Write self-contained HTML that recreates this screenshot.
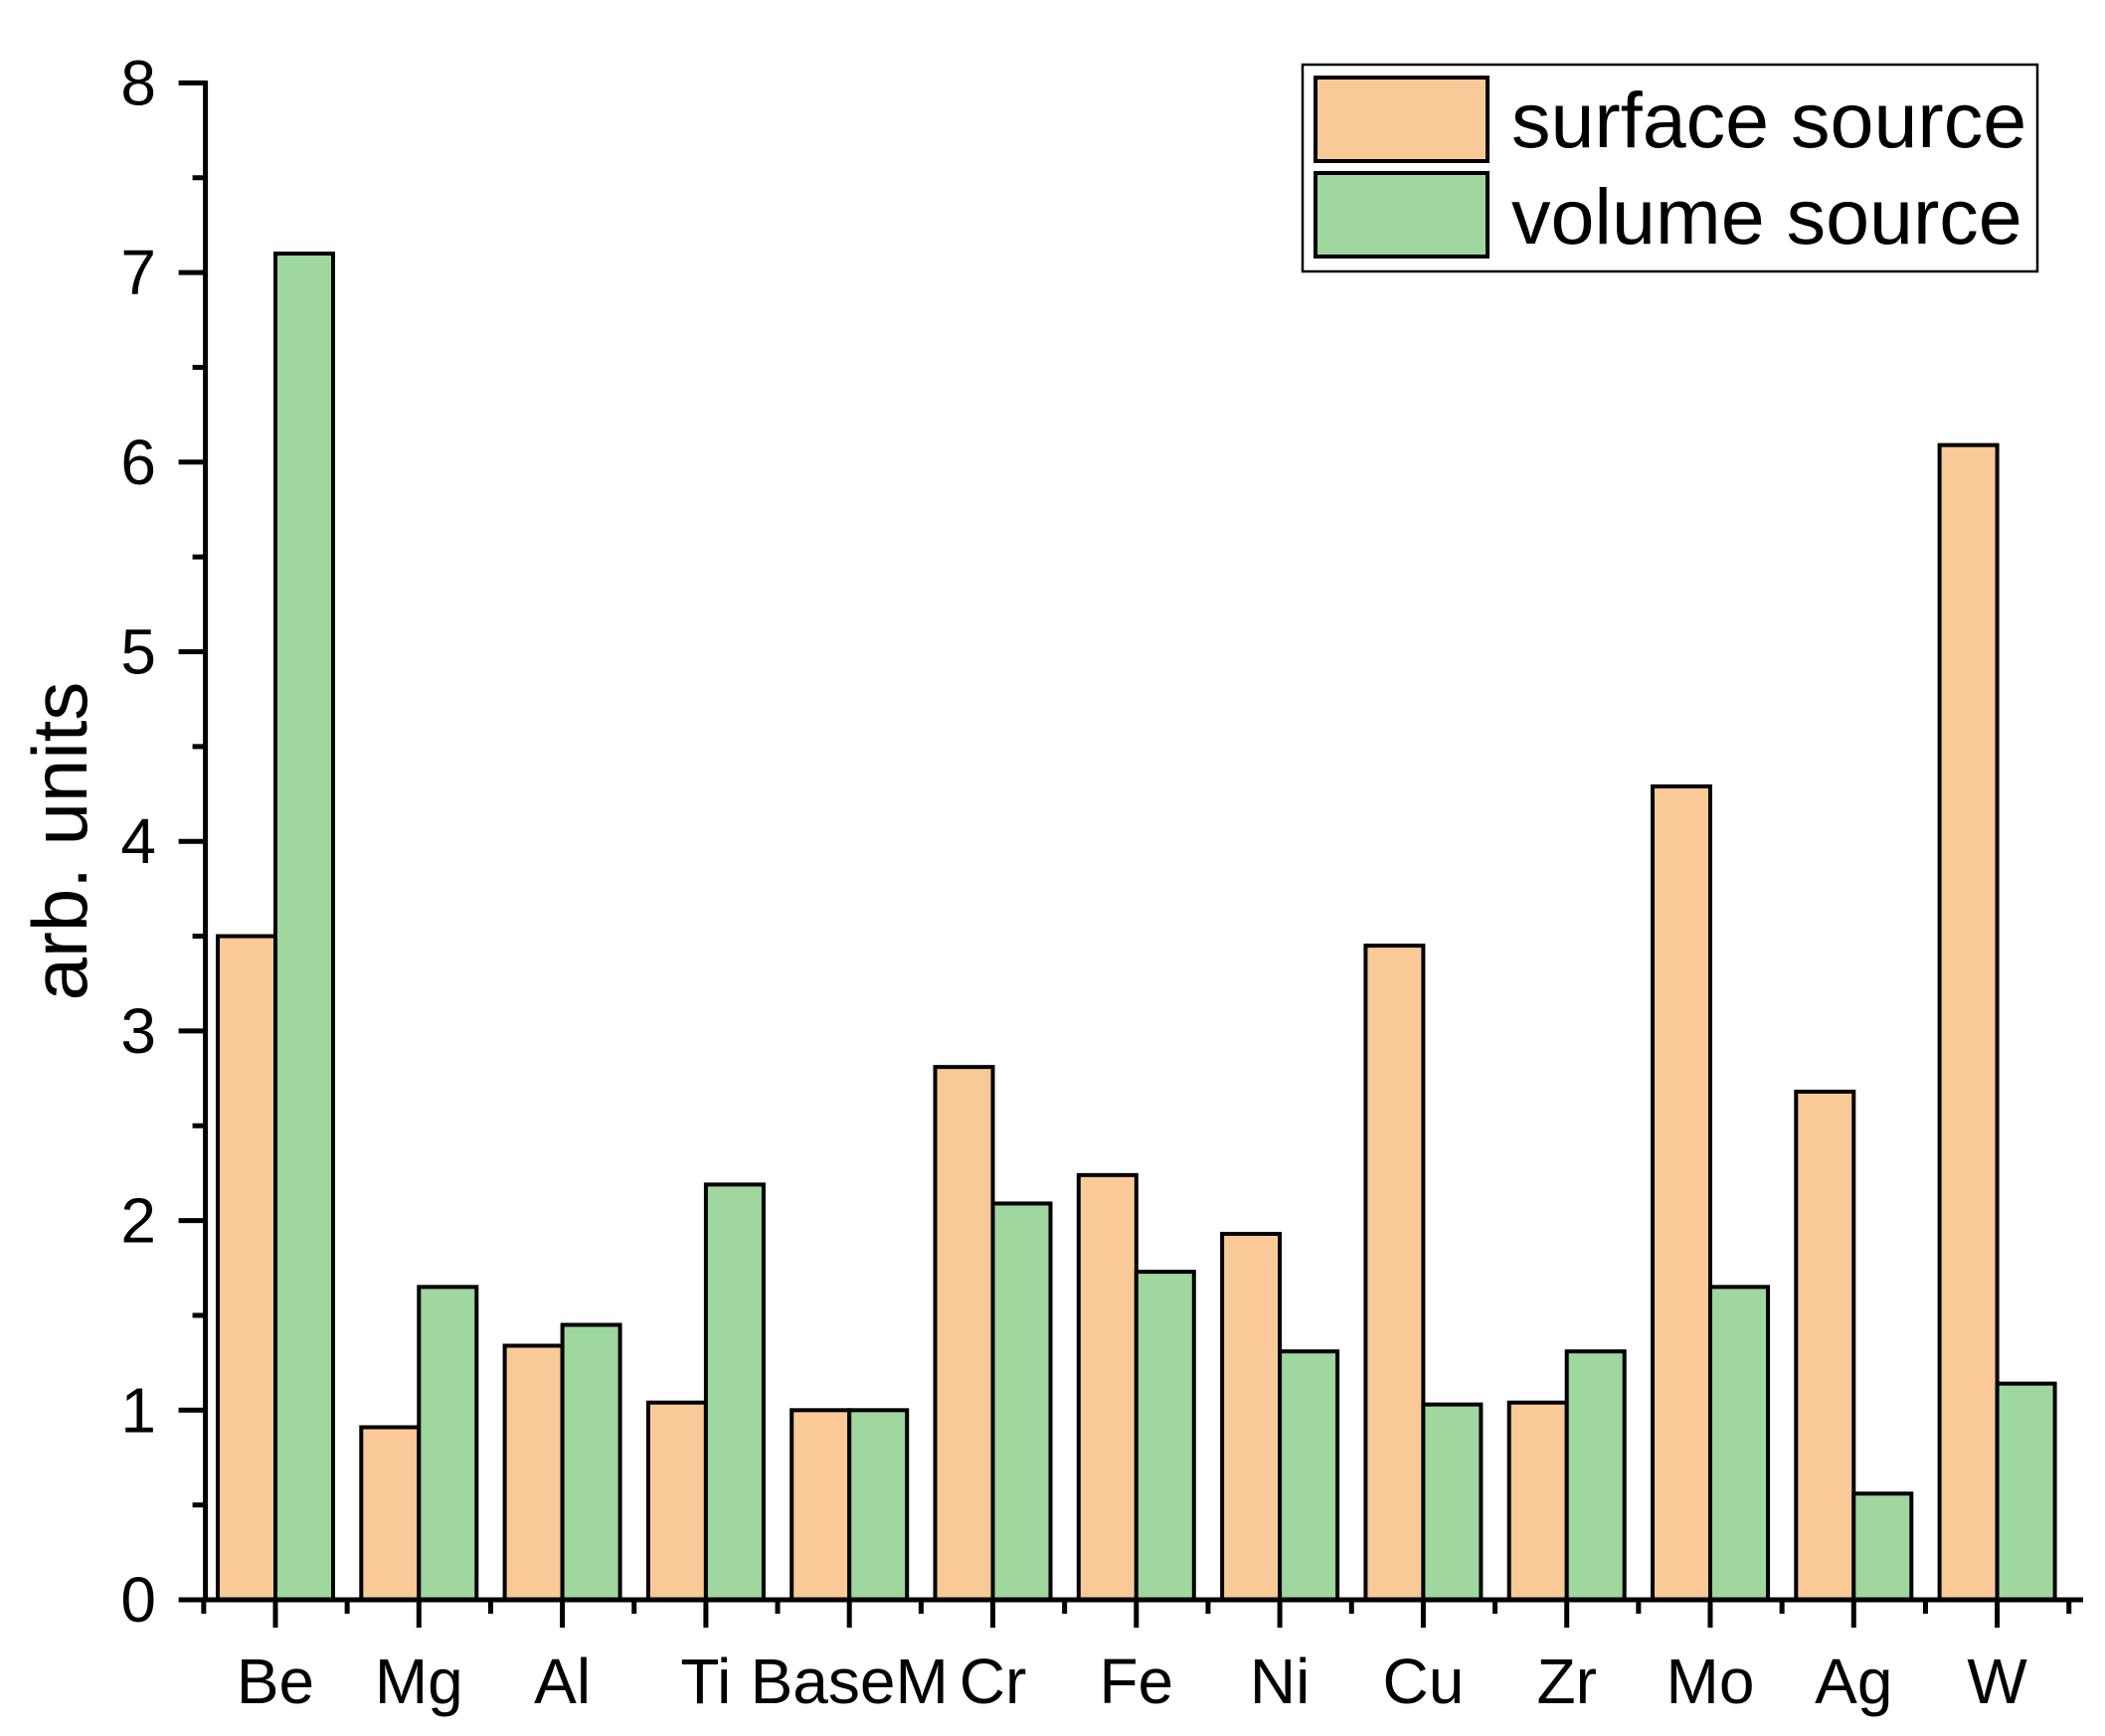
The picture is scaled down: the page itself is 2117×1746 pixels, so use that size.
<!DOCTYPE html>
<html><head><meta charset="utf-8"><style>html,body{margin:0;padding:0;background:#fff}svg{display:block}</style></head>
<body>
<svg id="s" xmlns="http://www.w3.org/2000/svg" width="2117" height="1746" viewBox="0 0 2117 1746" font-family="Liberation Sans, Arial, sans-serif">
<rect width="2117" height="1746" fill="#fff"/>
<g id="bars"></g>
<g id="ax"></g>
<text x="0" y="0" transform="translate(87,846) rotate(-90)" font-size="78" text-anchor="middle">arb. units</text>
<rect x="1310" y="65" width="739" height="208" fill="#fff" stroke="#000" stroke-width="2.5"/>
<rect x="1323" y="78" width="173" height="84" fill="#F9C998" stroke="#000" stroke-width="4"/>
<rect x="1323" y="174" width="173" height="84" fill="#9FD79F" stroke="#000" stroke-width="4"/>
<text x="1520" y="148" font-size="79">surface source</text>
<text x="1520" y="245" font-size="79">volume source</text>
</svg>
<script>
var ns="http://www.w3.org/2000/svg";
function el(p,t,a,txt){var e=document.createElementNS(ns,t);for(var k in a)e.setAttribute(k,a[k]);if(txt!=null)e.textContent=txt;p.appendChild(e);return e;}
var bars=document.getElementById('bars'),ax=document.getElementById('ax');
var x0=206.6,y0=1609,u=190.7,sp=144.3,c0=277,bw=58;
var d=[["Be",3.5,7.1],["Mg",0.91,1.65],["Al",1.34,1.45],["Ti",1.04,2.19],["BaseM",1,1],["Cr",2.81,2.09],["Fe",2.24,1.73],["Ni",1.93,1.31],["Cu",3.45,1.03],["Zr",1.04,1.31],["Mo",4.29,1.65],["Ag",2.68,0.56],["W",6.09,1.14]];
d.forEach(function(r,i){var c=c0+i*sp;
el(bars,'rect',{x:c-bw,y:y0-r[1]*u,width:bw,height:r[1]*u,fill:'#F9C998',stroke:'#000','stroke-width':4});
el(bars,'rect',{x:c,y:y0-r[2]*u,width:bw,height:r[2]*u,fill:'#9FD79F',stroke:'#000','stroke-width':4});
el(ax,'line',{x1:c,y1:y0,x2:c,y2:y0+28,stroke:'#000','stroke-width':5});
el(ax,'line',{x1:c-sp/2,y1:y0,x2:c-sp/2,y2:y0+14,stroke:'#000','stroke-width':5});
el(ax,'text',{x:c,y:1713,'font-size':64,'text-anchor':'middle'},r[0]);
});
el(ax,'line',{x1:c0+12.5*sp,y1:y0,x2:c0+12.5*sp,y2:y0+14,stroke:'#000','stroke-width':5});
el(ax,'line',{x1:x0,y1:y0+2.5,x2:x0,y2:81,stroke:'#000','stroke-width':5});
el(ax,'line',{x1:x0-2.5,y1:y0,x2:2095,y2:y0,stroke:'#000','stroke-width':5});
for(var k=0;k<=8;k++){var y=y0-k*u;
el(ax,'line',{x1:x0-27,y1:y,x2:x0,y2:y,stroke:'#000','stroke-width':5});
el(ax,'text',{x:157,y:y+22,'font-size':64,'text-anchor':'end'},String(k));
if(k<8)el(ax,'line',{x1:x0-13,y1:y-u/2,x2:x0,y2:y-u/2,stroke:'#000','stroke-width':5});}
</script>
</body></html>
